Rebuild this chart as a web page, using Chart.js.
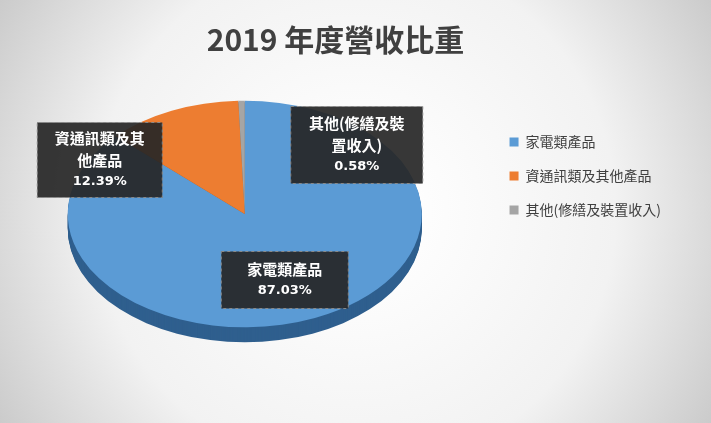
<!DOCTYPE html>
<html><head><meta charset="utf-8">
<script src="https://cdn.jsdelivr.net/npm/chart.js@4.4.1/dist/chart.umd.min.js"></script>
<style>html,body{margin:0;padding:0;}#wrap{width:711px;height:423px;}</style>
</head><body><div id="wrap"><canvas id="c"></canvas></div>
<script>
// chart data
const categories = ['家電類產品', '資通訊類及其他產品', '其他(修繕及裝置收入)'];
const shares = [87.03, 12.39, 0.58];
const labelLines = [['家電類產品'], ['資通訊類及其', '他產品'], ['其他(修繕及裝', '置收入)']];
const colors = ['#5B9BD5', '#ED7D31', '#A5A5A5'];
const sideColors = ['#2F5F8E', '#A8551C', '#6E6E6E'];
const SQUASH = 0.64, DEPTH = 15;

// label box centre offsets (px) from the pie centre, and box sizes
const boxOffsets = [[40, 66], [-145, -54], [112, -69]];
const boxSizes = [[127, 57], [125, 75], [132, 77]];

const bgPlugin = {
  id: 'bg',
  beforeDraw(chart) {
    const c = chart.ctx, w = chart.width, h = chart.height;
    const g = c.createRadialGradient(w / 2, h / 2, 40, w / 2, h / 2, w * 0.62);
    g.addColorStop(0, '#ffffff');
    g.addColorStop(0.55, '#f2f2f2');
    g.addColorStop(1, '#c4c4c4');
    c.save(); c.fillStyle = g; c.fillRect(0, 0, w, h); c.restore();
  }
};

const tiltPlugin = {
  id: 'tilt',
  beforeDatasetsDraw(chart) {
    const arcs = chart.getDatasetMeta(0).data;
    const arc = arcs[0];
    const c = chart.ctx;
    c.save();
    c.translate(arc.x, arc.y);
    for (let d = DEPTH; d > 0; d--) {
      c.save();
      c.translate(0, d);
      c.scale(1, SQUASH);
      arcs.forEach((a, i) => {
        c.beginPath();
        c.moveTo(0, 0);
        c.arc(0, 0, a.outerRadius, a.startAngle, a.endAngle);
        c.closePath();
        c.fillStyle = sideColors[i];
        c.fill();
      });
      c.restore();
    }
    c.restore();
    c.save();
    c.translate(arc.x, arc.y);
    c.scale(1, SQUASH);
    c.translate(-arc.x, -arc.y);
  },
  afterDatasetsDraw(chart) {
    chart.ctx.restore();
    const c = chart.ctx;
    chart.getDatasetMeta(0).data.forEach((a, i) => {
      const lines = labelLines[i].concat([shares[i].toFixed(2) + '%']);
      const boldCjk = 'bold 15px "Noto Sans CJK TC", sans-serif';
      const bw = boxSizes[i][0], bh = boxSizes[i][1];
      const bx = a.x + boxOffsets[i][0] - bw / 2, by = a.y + boxOffsets[i][1] - bh / 2;
      c.save();
      c.fillStyle = 'rgba(38,38,38,0.92)';
      c.fillRect(bx, by, bw, bh);
      c.setLineDash([3, 3]);
      c.strokeStyle = '#888';
      c.strokeRect(bx, by, bw, bh);
      c.fillStyle = '#ffffff';
      c.textAlign = 'center';
      c.textBaseline = 'middle';
      const top = by + bh / 2 - (lines.length - 1) * 11;
      lines.forEach((t, k) => {
        c.font = k === lines.length - 1 ? 'bold 13px "DejaVu Sans", sans-serif' : boldCjk;
        c.fillText(t, bx + bw / 2, top + k * 22);
      });
      c.restore();
    });
  }
};

new Chart(document.getElementById('c'), {
  type: 'pie',
  data: {
    labels: categories,
    datasets: [{ data: shares, backgroundColor: colors, borderWidth: 0, radius: 177 }]
  },
  options: {
    responsive: true,
    maintainAspectRatio: false,
    animation: false,
    layout: { padding: { left: 0, right: 40, top: 0, bottom: 71 } },
    plugins: {
      title: {
        display: true,
        text: '2019 年度營收比重',
        color: '#404040',
        font: { size: 30, weight: 'bold', family: '"Noto Sans CJK TC", sans-serif' },
        padding: { top: 22, bottom: 18 }
      },
      legend: {
        position: 'right',
        labels: {
          boxWidth: 9, boxHeight: 9, padding: 20, color: '#404040',
          font: { size: 14, family: '"Noto Sans CJK TC", sans-serif' }
        }
      },
      tooltip: { enabled: false }
    }
  },
  plugins: [bgPlugin, tiltPlugin]
});
</script></body></html>
